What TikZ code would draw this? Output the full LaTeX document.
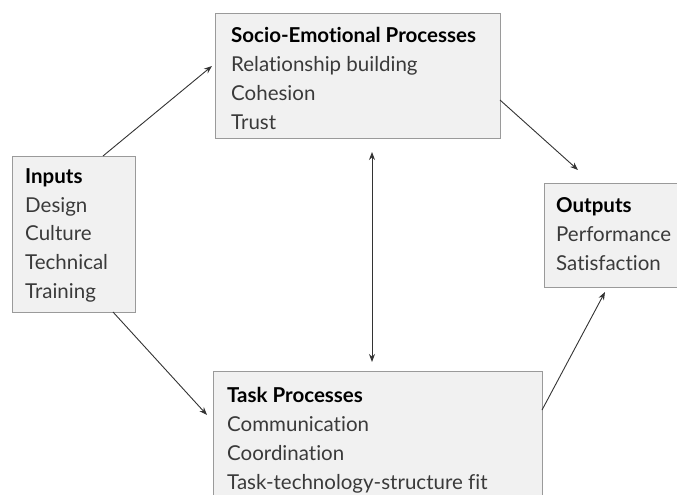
\documentclass[tikz,border=0pt]{standalone}
\usepackage{fontspec}
\setmainfont[Ligatures={NoCommon,NoRare,NoContextual}]{Lato}
\usetikzlibrary{arrows.meta,calc}
\definecolor{boxfill}{HTML}{F1F1F1}
\definecolor{boxline}{HTML}{9A9A9A}
\definecolor{txt}{HTML}{3A3A3A}
\tikzset{
  box/.style={draw=boxline, fill=boxfill, line width=0.9pt, inner sep=0pt, anchor=north west},
  lbl/.style={anchor=north west, inner sep=0pt, align=left, text=txt, font=\fontsize{20.5}{28.7}\selectfont},
  conn/.style={draw=black!80, line width=0.9pt, -{Stealth[length=8pt,width=6pt]}},
  dconn/.style={draw=black!80, line width=0.9pt, {Stealth[length=8pt,width=6pt]}-{Stealth[length=8pt,width=6pt]}}
}
\newcommand{\hd}[1]{{\bfseries\color{black}#1}}
\begin{document}
\begin{tikzpicture}[x=1pt,y=-1pt]
\useasboundingbox (0,0) rectangle (677,495);
\begin{scope}
\clip (0,0) rectangle (677,495);
\node[box, minimum width=123pt, minimum height=156pt] (inputs) at (12,156) {};
\node[box, minimum width=285pt, minimum height=125pt] (socio) at (215,13) {};
\node[box, minimum width=160pt, minimum height=104pt] (outputs) at (544,183) {};
\node[box, minimum width=329pt, minimum height=150pt] (task) at (213,371) {};
\end{scope}
\node[lbl] (inputstext) at (25,168.5) {\hd{Inputs}\\Design\\Culture\\Technical\\Training};
\node[lbl] (sociotext) at (231,27.5) {\hd{Socio-Emotional Processes}\\Relationship building\\Cohesion\\Trust};
\node[lbl] (outputstext) at (556,197.5) {\hd{Outputs}\\Performance\\Satisfaction};
\node[lbl] (tasktext) at (227,387.5) {\hd{Task Processes}\\Communication\\Coordination\\Task-technology-structure fit};
\coordinate (a1) at (103,156);
\coordinate (a1e) at (212,66);
\coordinate (a2) at (113,312);
\coordinate (a2e) at (207,415);
\coordinate (a3) at (500,100);
\coordinate (a3e) at (578,170);
\coordinate (a4) at (542,410);
\coordinate (a4e) at (605,292);
\coordinate (a5) at (372,152);
\coordinate (a5e) at (372,362);
\draw[conn] (a1) -- (a1e);
\draw[conn] (a2) -- (a2e);
\draw[conn] (a3) -- (a3e);
\draw[conn] (a4) -- (a4e);
\draw[dconn] (a5) -- (a5e);
\end{tikzpicture}
\end{document}
